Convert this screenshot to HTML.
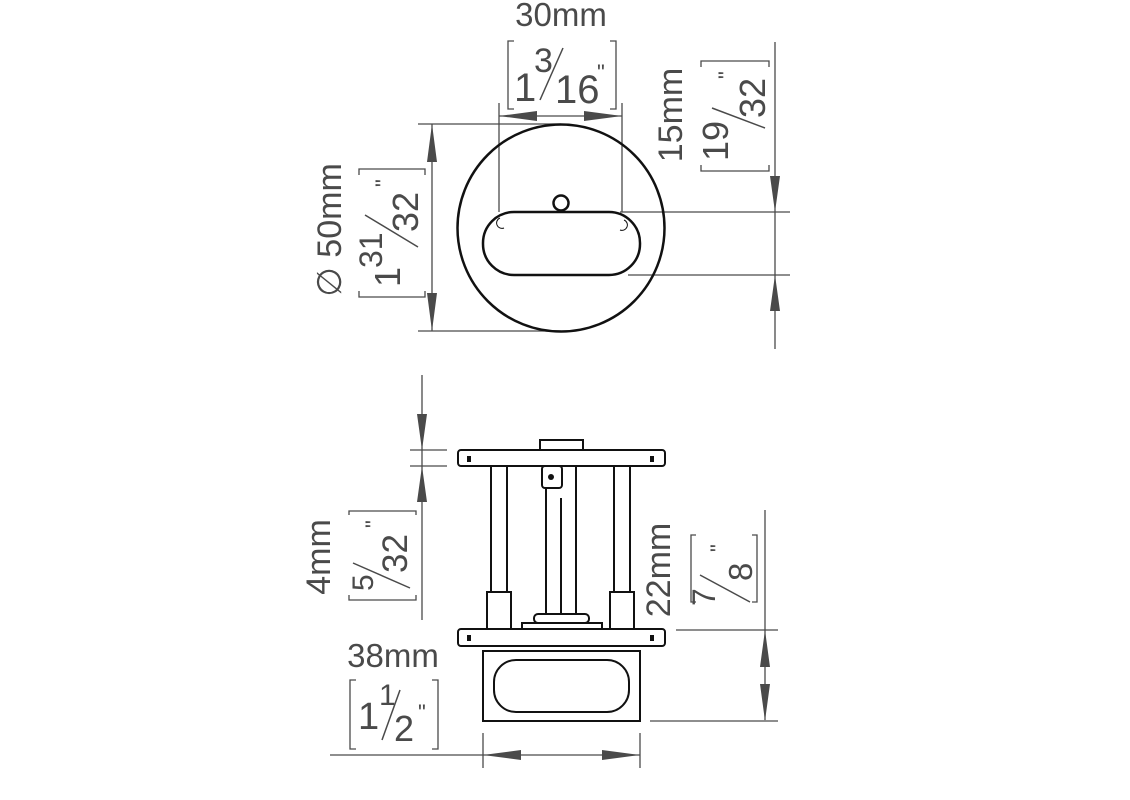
<!DOCTYPE html>
<html><head><meta charset="utf-8"><style>
html,body{margin:0;padding:0;background:#fff;}
svg{display:block;}
text{font-family:"Liberation Sans",sans-serif;fill:#4a4a4a;}
</style></head><body>
<svg width="1130" height="800" viewBox="0 0 1130 800" xmlns="http://www.w3.org/2000/svg">
<g stroke="#4a4a4a" stroke-width="1.3" fill="none">
<line x1="499" y1="103" x2="499" y2="212"/><line x1="622" y1="103" x2="622" y2="212"/>
<line x1="499" y1="116" x2="622" y2="116"/>
<path d="M499,116 L537,111 L537,121 Z M622,116 L584,111 L584,121 Z" fill="#4a4a4a" stroke="none"/>
<path d="M514,41 H508 V109 H514 M610,41 H616 V109 H610"/>
<line x1="418" y1="124" x2="561" y2="124"/><line x1="418" y1="331" x2="561" y2="331"/>
<line x1="432" y1="124" x2="432" y2="331"/>
<path d="M432,124 L427,162 L437,162 Z M432,331 L427,293 L437,293 Z" fill="#4a4a4a" stroke="none"/>
<path d="M359,175 V169 H425 V175 M359,291 V297 H425 V291"/>
<line x1="775" y1="42" x2="775" y2="349"/>
<line x1="620" y1="212" x2="790" y2="212"/><line x1="628" y1="275" x2="790" y2="275"/>
<path d="M775,212 L770,176 L780,176 Z M775,275 L770,311 L780,311 Z" fill="#4a4a4a" stroke="none"/>
<path d="M701,67 V61 H769 V67 M701,165 V171 H769 V165"/>
<line x1="422" y1="375" x2="422" y2="620"/>
<line x1="410" y1="450" x2="447" y2="450"/><line x1="410" y1="466" x2="447" y2="466"/>
<path d="M422,450 L417,414 L427,414 Z M422,466 L417,502 L427,502 Z" fill="#4a4a4a" stroke="none"/>
<path d="M349,515 V511 H416 V515 M349,595 V600 H416 V595"/>
<line x1="765" y1="510" x2="765" y2="720"/>
<line x1="676" y1="630" x2="778" y2="630"/><line x1="650" y1="721" x2="778" y2="721"/>
<path d="M765,630 L760,667 L770,667 Z M765,721 L760,684 L770,684 Z" fill="#4a4a4a" stroke="none"/>
<path d="M696,535 H691 V602 H696 M752,535 H757 V602 H752"/>
<line x1="330" y1="755" x2="640" y2="755"/>
<line x1="483" y1="733" x2="483" y2="768"/><line x1="640" y1="733" x2="640" y2="768"/>
<path d="M483,755 L521,750 L521,760 Z M640,755 L602,750 L602,760 Z" fill="#4a4a4a" stroke="none"/>
<path d="M356,680 H350 V749 H356 M432,680 H438 V749 H432"/>
</g>
<g stroke="#111" stroke-width="2.5" fill="none">
<circle cx="561" cy="228" r="103.5"/>
<rect x="483" y="212" width="157" height="63" rx="31"/>
<circle cx="561" cy="203" r="7.5" fill="#fff"/>
<path d="M500,218 a4,4 0 0 0 4,10 M624,220 a4,4 0 0 1 -4,10" stroke-width="1"/>
</g>
<g stroke="#111" stroke-width="2" fill="#fff">
<rect x="540" y="440" width="43" height="11"/>
<rect x="458" y="450" width="207" height="16" rx="3"/>
<rect x="458" y="629" width="207" height="17" rx="3"/>
<rect x="491" y="466" width="16" height="126"/>
<rect x="614" y="466" width="16" height="126"/>
<rect x="487" y="592" width="24" height="37"/>
<rect x="610" y="592" width="24" height="37"/>
<rect x="546" y="466" width="30" height="150"/>
<line x1="561" y1="498" x2="561" y2="616"/>
<rect x="542" y="466" width="20" height="22" rx="3"/>
<rect x="534" y="614" width="55" height="9" rx="4"/>
<rect x="522" y="623" width="80" height="6"/>
<rect x="483" y="651" width="157" height="70"/>
<rect x="494" y="660" width="135" height="52" rx="22"/>
</g>
<g fill="#111">
<rect x="467" y="456" width="4" height="6"/><rect x="650" y="456" width="4" height="6"/>
<rect x="467" y="635" width="4" height="6"/><rect x="650" y="635" width="4" height="6"/>
<circle cx="551" cy="477" r="3"/>
</g>

<text x="561" y="26" font-size="33" text-anchor="middle">30mm</text>
<text x="514" y="101" font-size="40">1</text>
<text x="534" y="72" font-size="34">3</text>
<line x1="540" y1="100" x2="563" y2="48" stroke="#4a4a4a" stroke-width="1.5"/>
<text x="555" y="103" font-size="40">16</text>
<text x="597" y="80" font-size="22">"</text>

<g transform="translate(332,230) rotate(-90)"><text x="0" y="0" font-size="34" text-anchor="middle" dominant-baseline="middle">∅ 50mm</text></g>
<g transform="translate(408,232) rotate(-90)">
<text x="-55" y="-8" font-size="36">1</text>
<text x="-36" y="-26" font-size="32">31</text>
<line x1="-15" y1="10" x2="17" y2="-43" stroke="#4a4a4a" stroke-width="1.5"/>
<text x="0" y="10" font-size="36">32</text>
<text x="45" y="-17" font-size="22">"</text>
</g>

<g transform="translate(673,115) rotate(-90)"><text x="0" y="0" font-size="34" text-anchor="middle" dominant-baseline="middle">15mm</text></g>
<g transform="translate(752,116) rotate(-90)">
<text x="-45" y="-24" font-size="36">19</text>
<line x1="-12" y1="13" x2="8" y2="-40" stroke="#4a4a4a" stroke-width="1.5"/>
<text x="-2" y="13" font-size="36">32</text>
<text x="37" y="-18" font-size="22">"</text>
</g>

<g transform="translate(321,557) rotate(-90)"><text x="0" y="0" font-size="34" text-anchor="middle" dominant-baseline="middle">4mm</text></g>
<g transform="translate(398,556) rotate(-90)">
<text x="-35" y="-25" font-size="30">5</text>
<line x1="-32" y1="12" x2="-7" y2="-45" stroke="#4a4a4a" stroke-width="1.5"/>
<text x="-17" y="9" font-size="35">32</text>
<text x="28" y="-17" font-size="22">"</text>
</g>

<g transform="translate(661,570) rotate(-90)"><text x="0" y="0" font-size="34" text-anchor="middle" dominant-baseline="middle">22mm</text></g>
<g transform="translate(730,570) rotate(-90)">
<text x="-36" y="-15" font-size="32">7</text>
<line x1="-32" y1="20" x2="-5" y2="-30" stroke="#4a4a4a" stroke-width="1.5"/>
<text x="-11" y="22" font-size="33">8</text>
<text x="18" y="-4" font-size="22">"</text>
</g>

<text x="393" y="667" font-size="33" text-anchor="middle">38mm</text>
<text x="358" y="729" font-size="38">1</text>
<text x="379" y="705" font-size="30">1</text>
<line x1="382" y1="740" x2="400" y2="690" stroke="#4a4a4a" stroke-width="1.5"/>
<text x="394" y="741" font-size="36">2</text>
<text x="418" y="720" font-size="22">"</text>
</svg>
</body></html>
